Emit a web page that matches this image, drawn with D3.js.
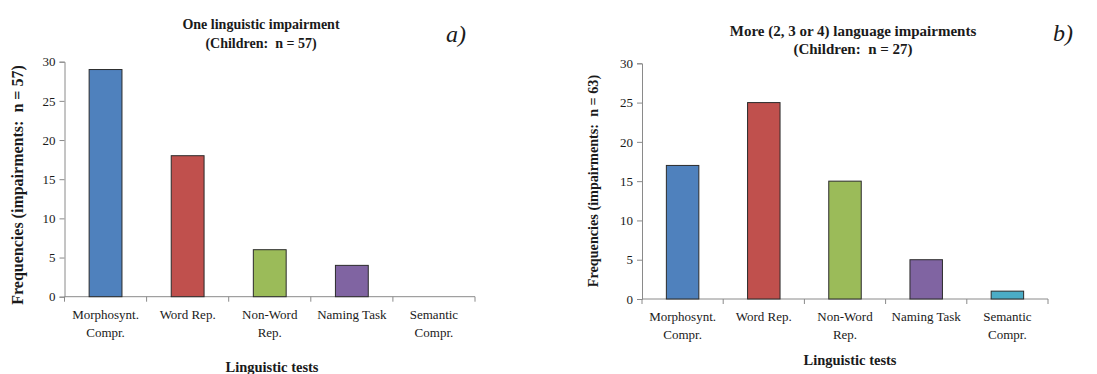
<!DOCTYPE html>
<html>
<head>
<meta charset="utf-8">
<script src="https://cdn.jsdelivr.net/npm/d3@7"></script>
<style>
  html, body { margin: 0; padding: 0; background: #fff; }
  svg { display: block; }
  text { font-family: "Liberation Serif", "Times New Roman", serif; fill: #1a1a1a; white-space: pre; }
</style>
</head>
<body>
<svg id="chart" width="1097" height="374"></svg>
<script>
// Linguistic test categories (label lines)
const categories = ["Morphosynt. Compr.", "Word Rep.", "Non-Word Rep.", "Naming Task", "Semantic Compr."];
const categoryLines = [["Morphosynt.", "Compr."], ["Word Rep."], ["Non-Word", "Rep."], ["Naming Task"], ["Semantic", "Compr."]];
const barColors = ["#4F81BD", "#C0504D", "#9BBB59", "#8064A2", "#4BACC6"];

// Panel a: one linguistic impairment
const valuesA = [29, 18, 6, 4, 0];
// Panel b: more (2, 3 or 4) language impairments
const valuesB = [17, 25, 15, 5, 1];

const yTicks = [0, 5, 10, 15, 20, 25, 30];

const panels = [
  {
    values: valuesA,
    title: ["One linguistic impairment", "(Children:  n = 57)"],
    titleSize: 14,
    tag: "a)",
    yTitle: "Frequencies (impairments:  n = 57)",
    xTitle: "Linguistic tests",
    left: 64.5, right: 475, top: 61.7, bottom: 296.7,
    titleX: 261, titleY: [29, 48],
    tagX: 456, tagY: 42, yTitleX: 23, yTitleY: 185, yTitleSize: 16,
    xTitleX: 272, xTitleY: 372
  },
  {
    values: valuesB,
    title: ["More (2, 3 or 4) language impairments", "(Children:  n = 27)"],
    titleSize: 15,
    tag: "b)",
    yTitle: "Frequencies (impairments:  n = 63)",
    xTitle: "Linguistic tests",
    left: 642, right: 1048, top: 63.3, bottom: 299,
    titleX: 853, titleY: [36, 54],
    tagX: 1063, tagY: 41, yTitleX: 598, yTitleY: 181, yTitleSize: 14.2,
    xTitleX: 850, xTitleY: 365
  }
];

const svg = d3.select("#chart");
const axisColor = "#8a8a8a";

panels.forEach(p => {
  const g = svg.append("g");

  const x = d3.scaleBand()
    .domain(categories)
    .range([p.left, p.right])
    .paddingInner(0.6)
    .paddingOuter(0.3);

  const y = d3.scaleLinear()
    .domain([0, 30])
    .range([p.bottom, p.top]);

  // y axis
  const yAxis = g.append("g")
    .attr("transform", `translate(${p.left},0)`)
    .call(d3.axisLeft(y).tickValues(yTicks).tickSize(5).tickPadding(4));
  yAxis.select(".domain").attr("stroke", axisColor);
  yAxis.selectAll(".tick line").attr("stroke", axisColor);
  yAxis.selectAll(".tick text")
    .attr("font-size", 13)
    .attr("fill", "#1a1a1a");

  // x axis baseline with tick marks at category boundaries
  g.append("line")
    .attr("x1", p.left).attr("x2", p.right)
    .attr("y1", p.bottom).attr("y2", p.bottom)
    .attr("stroke", axisColor);
  const step = x.step();
  d3.range(categories.length + 1).forEach(i => {
    const bx = x.range()[0] + i * step;
    g.append("line")
      .attr("x1", bx).attr("x2", bx)
      .attr("y1", p.bottom).attr("y2", p.bottom + 5)
      .attr("stroke", axisColor);
  });

  // bars
  g.selectAll("rect.bar")
    .data(p.values.map((v, i) => ({ v, i })))
    .join("rect")
    .attr("class", "bar")
    .attr("x", d => x(categories[d.i]))
    .attr("width", x.bandwidth())
    .attr("y", d => y(d.v))
    .attr("height", d => y(0) - y(d.v))
    .attr("fill", d => barColors[d.i])
    .attr("stroke", d => d.v > 0 ? "#2b2b2b" : "none")
    .attr("stroke-width", 1);

  // category labels
  categoryLines.forEach((lines, i) => {
    const t = g.append("text")
      .attr("text-anchor", "middle")
      .attr("font-size", 13)
      .attr("x", x(categories[i]) + x.bandwidth() / 2)
      .attr("y", p.bottom + 22);
    lines.forEach((ln, j) => {
      t.append("tspan")
        .attr("x", x(categories[i]) + x.bandwidth() / 2)
        .attr("dy", j === 0 ? 0 : 18)
        .text(ln);
    });
  });

  // title
  p.title.forEach((ln, j) => {
    g.append("text")
      .attr("x", p.titleX)
      .attr("y", p.titleY[j])
      .attr("text-anchor", "middle")
      .attr("font-size", p.titleSize)
      .attr("font-weight", "bold")
      .text(ln);
  });

  // panel tag
  g.append("text")
    .attr("x", p.tagX)
    .attr("y", p.tagY)
    .attr("text-anchor", "middle")
    .attr("font-size", 24)
    .attr("font-style", "italic")
    .text(p.tag);

  // y axis title
  g.append("text")
    .attr("transform", `translate(${p.yTitleX},${p.yTitleY}) rotate(-90)`)
    .attr("text-anchor", "middle")
    .attr("font-size", p.yTitleSize)
    .attr("font-weight", "bold")
    .text(p.yTitle);

  // x axis title
  g.append("text")
    .attr("x", p.xTitleX)
    .attr("y", p.xTitleY)
    .attr("text-anchor", "middle")
    .attr("font-size", 14.5)
    .attr("font-weight", "bold")
    .text(p.xTitle);
});
</script>
</body>
</html>
